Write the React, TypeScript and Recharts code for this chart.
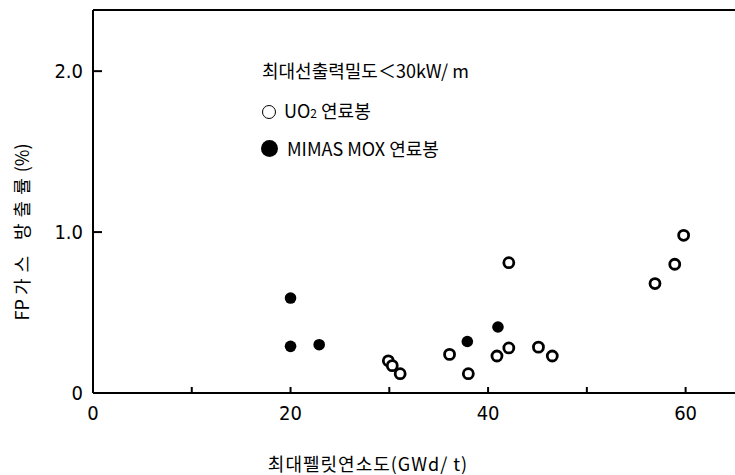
import { ScatterChart, Scatter, XAxis, YAxis, ReferenceLine } from "recharts";

// UO2 rods: peak pellet burnup (GWd/t) vs FP gas release (%)
const uo2Burnup = [29.9, 30.3, 31.1, 36.1, 38.0, 40.9, 42.1, 42.1, 45.1, 46.5, 56.9, 58.9, 59.8];
const uo2Release = [0.2, 0.17, 0.12, 0.24, 0.12, 0.23, 0.28, 0.81, 0.285, 0.23, 0.68, 0.8, 0.98];

// MIMAS MOX rods
const moxBurnup = [20.0, 20.0, 22.9, 37.9, 41.0];
const moxRelease = [0.59, 0.29, 0.3, 0.32, 0.41];

const xTicks = [0, 10, 20, 30, 40, 50, 60];
const xTickLabels = ["0", "", "20", "", "40", "", "60"];
const yTicks = [0, 1, 2];
const yTickLabels = ["0", "1.0", "2.0"];

const Y_MAX = 2.38;

const uo2Data = uo2Burnup.map((b, i) => ({ burnup: b, release: uo2Release[i] }));
const moxData = moxBurnup.map((b, i) => ({ burnup: b, release: moxRelease[i] }));

const numFont = "'Liberation Sans Narrow', 'DejaVu Sans Condensed', sans-serif";
const krFont = "'Noto Sans CJK KR', 'Noto Sans', sans-serif";

const OpenDot = (props: any) => (
  <circle cx={props.cx} cy={props.cy} r={5} fill="#fff" stroke="#000" strokeWidth={2.8} />
);

const FilledDot = (props: any) => <circle cx={props.cx} cy={props.cy} r={5.8} fill="#000" />;

const noteStyle = {
  position: "absolute" as const,
  fontFamily: krFont,
  fontSize: 18,
  color: "#000",
  lineHeight: "24px",
  whiteSpace: "nowrap" as const,
  display: "flex",
  alignItems: "center",
};

export default function App() {
  return (
    <div style={{ position: "relative", width: 735, height: 475, background: "#fff", overflow: "hidden" }}>
      <style>{"body{margin:0}"}</style>
      <ScatterChart width={735} height={475} margin={{ top: 10, right: 0, bottom: 52, left: 33 }}>
        <XAxis
          type="number"
          dataKey="burnup"
          domain={[0, 65]}
          ticks={xTicks}
          tickFormatter={(v: number) => xTickLabels[xTicks.indexOf(v)] ?? ""}
          height={30}
          tickSize={-6}
          tickMargin={19}
          axisLine={{ stroke: "#000", strokeWidth: 2 }}
          tickLine={{ stroke: "#000", strokeWidth: 2 }}
          tick={{ fill: "#000", fontSize: 20, fontFamily: numFont }}
          allowDataOverflow
        />
        <YAxis
          type="number"
          dataKey="release"
          domain={[0, Y_MAX]}
          ticks={yTicks}
          tickFormatter={(v: number) => yTickLabels[yTicks.indexOf(v)] ?? ""}
          width={60}
          tickSize={-9}
          tickMargin={19}
          axisLine={{ stroke: "#000", strokeWidth: 2 }}
          tickLine={{ stroke: "#000", strokeWidth: 2 }}
          tick={{ fill: "#000", fontSize: 20, fontFamily: numFont }}
          allowDataOverflow
        />
        <ReferenceLine y={Y_MAX} stroke="#000" strokeWidth={2} />
        <Scatter data={uo2Data} shape={OpenDot} isAnimationActive={false} />
        <Scatter data={moxData} shape={FilledDot} isAnimationActive={false} />
      </ScatterChart>

      {/* annotation block inside the plot */}
      <div style={{ ...noteStyle, left: 262, top: 58 }}>최대선출력밀도＜30kW/ m</div>
      <div style={{ ...noteStyle, left: 262, top: 98 }}>
        <span style={{ display: "inline-block", width: 12, height: 12, borderRadius: "50%", border: "1.5px solid #000", marginRight: 8 }} />
        <span>
          UO<span style={{ fontSize: 12 }}>2</span> 연료봉
        </span>
      </div>
      <div style={{ ...noteStyle, left: 261, top: 136 }}>
        <span style={{ display: "inline-block", width: 17, height: 17, borderRadius: "50%", background: "#000", marginRight: 9 }} />
        <span>MIMAS MOX 연료봉</span>
      </div>

      {/* axis titles */}
      <div style={{ position: "absolute", left: 368, top: 463, transform: "translate(-50%, -50%)", fontFamily: krFont, fontSize: 18, letterSpacing: 1, color: "#000", whiteSpace: "nowrap" }}>
        최대펠릿연소도(GWd/ t)
      </div>
      <div style={{ position: "absolute", left: 21, top: 232, transform: "translate(-50%, -50%) rotate(-90deg)", fontFamily: krFont, fontSize: 18, color: "#000", whiteSpace: "nowrap" }}>
        FP <span style={{ letterSpacing: 6 }}>가스 방출률</span>(%)
      </div>
    </div>
  );
}
